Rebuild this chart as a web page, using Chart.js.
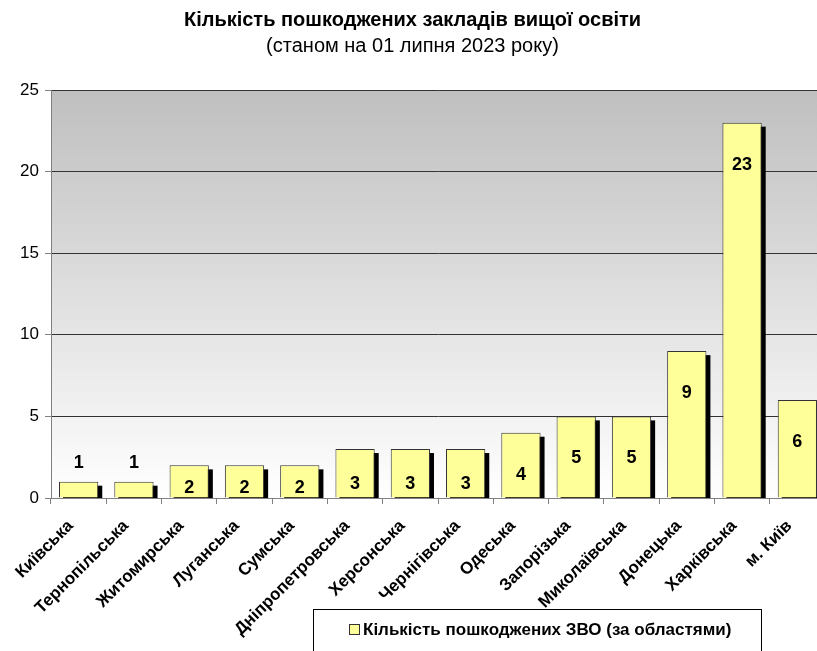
<!DOCTYPE html>
<html>
<head>
<meta charset="utf-8">
<script src="https://cdn.jsdelivr.net/npm/chart.js@4.4.0/dist/chart.umd.min.js"></script>
<style>
  html, body { margin: 0; padding: 0; background: #ffffff; overflow: hidden; }
  #wrap { position: relative; width: 832px; height: 651px; }
</style>
</head>
<body>
<div id="wrap"><canvas id="c" width="832" height="651"></canvas></div>
<script>
const categories = ["Київська", "Тернопільська", "Житомирська", "Луганська", "Сумська",
  "Дніпропетровська", "Херсонська", "Чернігівська", "Одеська", "Запорізька",
  "Миколаївська", "Донецька", "Харківська", "м. Київ"];
const values = [1, 1, 2, 2, 2, 3, 3, 3, 4, 5, 5, 9, 23, 6];
const seriesName = "Кількість пошкоджених ЗВО (за областями)";
const yTicks = [0, 5, 10, 15, 20, 25];
const titleText = "Кількість пошкоджених закладів вищої освіти";
const subtitleText = "(станом на 01 липня 2023 року)";

const FONT = "'Liberation Sans', Arial, sans-serif";

const bgPlugin = {
  id: 'bgGradient',
  beforeDraw(chart) {
    const { ctx, chartArea: a } = chart;
    const g = ctx.createLinearGradient(0, a.top, 0, a.bottom);
    g.addColorStop(0, '#bfbfbf');
    g.addColorStop(1, '#ffffff');
    ctx.save();
    ctx.fillStyle = g;
    ctx.fillRect(a.left, a.top, a.right - a.left, a.bottom - a.top);
    ctx.restore();
  }
};

const shadowPlugin = {
  id: 'barShadow',
  beforeDatasetsDraw(chart) {
    const { ctx, chartArea: a } = chart;
    const meta = chart.getDatasetMeta(0);
    ctx.save();
    ctx.beginPath();
    ctx.rect(a.left, a.top, a.right - a.left, a.bottom - a.top);
    ctx.clip();
    ctx.fillStyle = '#000000';
    meta.data.forEach(bar => {
      const w = bar.width;
      ctx.fillRect(bar.x - w / 2 + 4, bar.y + 4, w, bar.base - bar.y);
    });
    ctx.restore();
  }
};

const labelPlugin = {
  id: 'valueLabels',
  afterDatasetsDraw(chart) {
    const { ctx } = chart;
    const meta = chart.getDatasetMeta(0);
    ctx.save();
    ctx.font = "bold 18px " + FONT;
    ctx.fillStyle = '#000000';
    ctx.textAlign = 'center';
    ctx.textBaseline = 'middle';
    meta.data.forEach((bar, i) => {
      const v = values[i];
      const h = bar.base - bar.y;
      let y;
      if (v <= 1) {
        y = bar.y - 19;
      } else {
        y = bar.y + Math.min(0.72 * h, 42);
      }
      ctx.fillText(String(v), bar.x, y);
    });
    ctx.restore();
  }
};

const legendPlugin = {
  id: 'boxLegend',
  afterDraw(chart) {
    const { ctx } = chart;
    ctx.save();
    ctx.strokeStyle = '#000000';
    ctx.lineWidth = 1;
    ctx.strokeRect(313.5, 609.5, 448, 60);
    ctx.fillStyle = '#ffff99';
    ctx.fillRect(349.5, 624.5, 10, 10);
    ctx.strokeStyle = '#333333';
    ctx.strokeRect(349.5, 624.5, 10, 10);
    ctx.fillStyle = '#000000';
    ctx.font = "bold 17px " + FONT;
    ctx.textAlign = 'left';
    ctx.textBaseline = 'middle';
    ctx.fillText(seriesName, 363, 630);
    ctx.restore();
  }
};

new Chart(document.getElementById('c'), {
  type: 'bar',
  data: {
    labels: categories,
    datasets: [{
      label: seriesName,
      data: values,
      backgroundColor: '#ffff99',
      borderColor: '#333333',
      borderWidth: 1,
      categoryPercentage: 1.0,
      barPercentage: 0.71
    }]
  },
  options: {
    responsive: false,
    animation: false,
    devicePixelRatio: 1,
    layout: { padding: { left: 0, right: 7, top: 0, bottom: 0 } },
    plugins: {
      legend: { display: false },
      tooltip: { enabled: false },
      title: {
        display: true,
        text: titleText,
        color: '#000000',
        font: { family: FONT, size: 20, weight: 'bold' },
        padding: { top: 8, bottom: 2 }
      },
      subtitle: {
        display: true,
        text: subtitleText,
        color: '#000000',
        font: { family: FONT, size: 20, weight: 'normal' },
        padding: { top: 0, bottom: 32 }
      }
    },
    scales: {
      x: {
        offset: true,
        grid: {
          offset: true,
          drawOnChartArea: false,
          drawTicks: true,
          tickLength: 6,
          color: '#808080'
        },
        border: { color: '#808080', width: 1 },
        ticks: {
          color: '#000000',
          font: { family: FONT, size: 17, weight: 'bold' },
          minRotation: 45,
          maxRotation: 45,
          autoSkip: false,
          padding: 12,
          labelOffset: -8
        },
        afterFit(s) { s.height = 153; }
      },
      y: {
        min: 0,
        max: 25,
        afterBuildTicks(s) { s.ticks = yTicks.map(v => ({ value: v })); },
        grid: {
          color: '#333333',
          lineWidth: 1,
          drawTicks: true,
          tickLength: 6,
          tickColor: '#808080'
        },
        border: { color: '#808080', width: 1 },
        ticks: {
          color: '#000000',
          font: { family: FONT, size: 17 },
          padding: 6
        },
        afterFit(s) { s.width = 51; }
      }
    }
  },
  plugins: [bgPlugin, shadowPlugin, labelPlugin, legendPlugin]
});
</script>
</body>
</html>
